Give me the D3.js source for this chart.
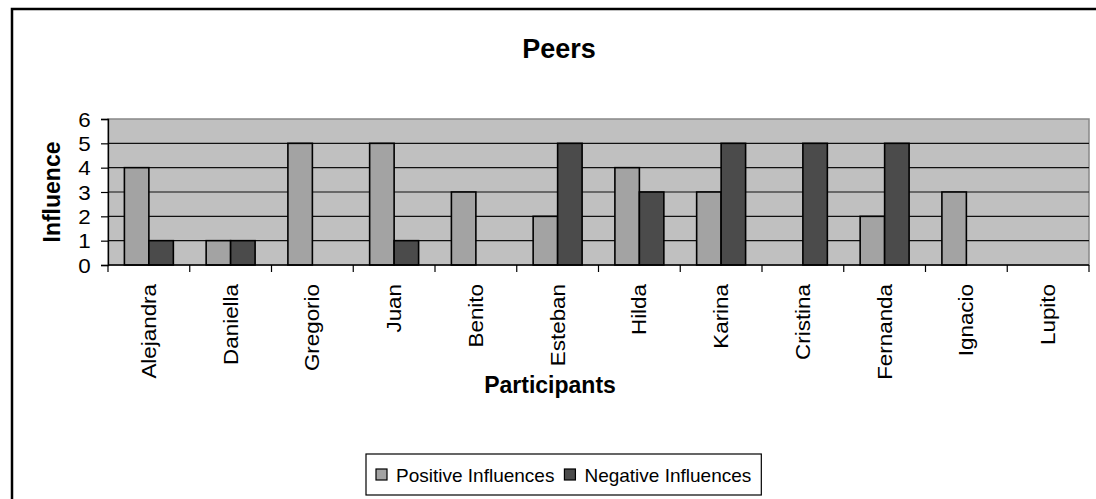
<!DOCTYPE html>
<html>
<head>
<meta charset="utf-8">
<script src="https://cdn.jsdelivr.net/npm/d3@7"></script>
<style>
  body { margin: 0; background: #fff; }
  svg { display: block; font-family: "Liberation Sans", Arial, sans-serif; }
</style>
</head>
<body>
<script>
var participants = ["Alejandra", "Daniella", "Gregorio", "Juan", "Benito", "Esteban",
                    "Hilda", "Karina", "Cristina", "Fernanda", "Ignacio", "Lupito"];
var positive = [4, 1, 5, 5, 3, 2, 4, 3, 0, 2, 3, 0];
var negative = [1, 1, 0, 1, 0, 5, 3, 5, 5, 5, 0, 0];
var seriesNames = ["Positive Influences", "Negative Influences"];
var seriesColors = ["#a3a3a3", "#4b4b4b"];
var yTicks = [0, 1, 2, 3, 4, 5, 6];

var w = 1096, h = 499,
    plotLeft = 108, plotRight = 1089, plotTop = 119, plotBottom = 265;

var svg = d3.select("body").append("svg")
  .attr("width", w)
  .attr("height", h);

// outer chart border (runs off the right and bottom of the picture)
svg.append("rect")
  .attr("x", 12).attr("y", 9)
  .attr("width", 1100).attr("height", 520)
  .attr("fill", "#fff")
  .attr("stroke", "#000")
  .attr("stroke-width", 2.5);

svg.append("text")
  .attr("x", 559).attr("y", 58)
  .attr("text-anchor", "middle")
  .attr("font-size", 27).attr("font-weight", "bold")
  .text("Peers");

var x0 = d3.scaleBand().domain(participants).range([plotLeft, plotRight]);
var x1 = d3.scaleBand().domain([0, 1]).range([0, x0.bandwidth()]).paddingOuter(0.67);
var y = d3.scaleLinear().domain([0, 6]).range([plotBottom, plotTop]);

// plot area
svg.append("rect")
  .attr("x", plotLeft).attr("y", plotTop)
  .attr("width", plotRight - plotLeft).attr("height", plotBottom - plotTop)
  .attr("fill", "#c0c0c0")
  .attr("stroke", "#888")
  .attr("stroke-width", 1.5);

svg.append("g").selectAll("line")
  .data(yTicks.filter(function (d) { return d > 0 && d < 6; }))
  .enter().append("line")
  .attr("x1", plotLeft).attr("x2", plotRight)
  .attr("y1", function (d) { return y(d); })
  .attr("y2", function (d) { return y(d); })
  .attr("stroke", "#111")
  .attr("stroke-width", 1.2);

// bars
var rows = participants.map(function (p, i) {
  return { name: p, values: [positive[i], negative[i]] };
});

svg.append("g").selectAll("g")
  .data(rows)
  .enter().append("g")
  .attr("transform", function (d) { return "translate(" + x0(d.name) + ",0)"; })
  .selectAll("rect")
  .data(function (d) { return d.values.map(function (v, k) { return { k: k, v: v }; }); })
  .enter().filter(function (d) { return d.v > 0; }).append("rect")
  .attr("x", function (d) { return x1(d.k); })
  .attr("width", x1.bandwidth())
  .attr("y", function (d) { return y(d.v); })
  .attr("height", function (d) { return y(0) - y(d.v); })
  .attr("fill", function (d) { return seriesColors[d.k]; })
  .attr("stroke", "#000")
  .attr("stroke-width", 1.6);

// y axis
var yAxis = svg.append("g")
  .attr("transform", "translate(" + plotLeft + ",0)")
  .call(d3.axisLeft(y).tickValues(yTicks).tickSize(7).tickFormat(d3.format("d")));
yAxis.select(".domain").attr("stroke", "#000").attr("stroke-width", 1.3);
yAxis.selectAll(".tick line").attr("stroke", "#000").attr("stroke-width", 1.2);
yAxis.selectAll(".tick text")
  .attr("font-family", "Liberation Sans, Arial, sans-serif")
  .attr("font-size", 20)
  .attr("fill", "#000")
  .attr("x", -15.5)
  .attr("dy", "0.36em")
  .attr("transform", "scale(1.12,1)");

// x axis line and category boundary ticks
svg.append("line")
  .attr("x1", plotLeft).attr("x2", plotRight)
  .attr("y1", plotBottom).attr("y2", plotBottom)
  .attr("stroke", "#000").attr("stroke-width", 1.3);

var bounds = participants.map(function (p) { return x0(p); }).concat([plotRight]);
svg.append("g").selectAll("line")
  .data(bounds)
  .enter().append("line")
  .attr("x1", function (d) { return d; })
  .attr("x2", function (d) { return d; })
  .attr("y1", plotBottom).attr("y2", plotBottom + 7)
  .attr("stroke", "#000").attr("stroke-width", 1.2);

svg.append("g").selectAll("text")
  .data(participants)
  .enter().append("text")
  .attr("transform", function (d) {
    return "translate(" + (x0(d) + x0.bandwidth() / 2 + 7) + "," + (plotBottom + 19) + ") rotate(-90) scale(1.12,1)";
  })
  .attr("text-anchor", "end")
  .attr("font-size", 20)
  .text(function (d) { return d; });

// axis titles
svg.append("text")
  .attr("transform", "translate(60," + ((plotTop + plotBottom) / 2) + ") rotate(-90)")
  .attr("text-anchor", "middle")
  .attr("font-size", 23).attr("font-weight", "bold")
  .text("Influence");

svg.append("text")
  .attr("x", 550).attr("y", 393)
  .attr("text-anchor", "middle")
  .attr("font-size", 23).attr("font-weight", "bold")
  .text("Participants");

// legend
var legend = svg.append("g");
var legendBox = legend.append("rect")
  .attr("fill", "#fff").attr("stroke", "#000").attr("stroke-width", 1.2);

var lx = 376, ly = 475;
seriesNames.forEach(function (name, k) {
  legend.append("rect")
    .attr("x", lx).attr("y", ly - 6)
    .attr("width", 11).attr("height", 11)
    .attr("fill", seriesColors[k])
    .attr("stroke", "#000").attr("stroke-width", 1.2);
  var t = legend.append("text")
    .attr("x", lx + 20).attr("y", ly + 7)
    .attr("font-size", 19)
    .text(name);
  lx += 20 + t.node().getComputedTextLength() + 10;
});
legendBox
  .attr("x", 366).attr("y", 454)
  .attr("width", lx - 366).attr("height", 41);
</script>
</body>
</html>
